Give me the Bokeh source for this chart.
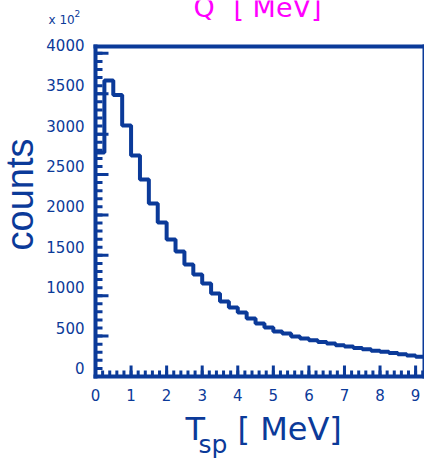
import math

from bokeh.core.properties import value
from bokeh.embed import file_html
from bokeh.models import Range1d
from bokeh.plotting import figure
from bokeh.resources import INLINE

# Spectator kinetic-energy spectrum, 0.25 MeV bins (counts in units of 10^2)
bin_width = 0.25
counts = [2772, 3663, 3486, 3106, 2735, 2438, 2141, 1906, 1696, 1547,
          1386, 1262, 1151, 1027, 928, 854, 792, 718, 656, 606,
          557, 532, 495, 470, 450, 428, 408, 388, 370, 352,
          336, 320, 305, 290, 275, 260, 245]
x_ticks = [0, 1, 2, 3, 4, 5, 6, 7, 8, 9]
x_tick_labels = ["0", "1", "2", "3", "4", "5", "6", "7", "8", "9"]
y_ticks = [0, 500, 1000, 1500, 2000, 2500, 3000, 3500, 4000]
y_tick_labels = ["0", "500", "1000", "1500", "2000", "2500", "3000", "3500", "4000"]
x_minor_step = 0.2
y_minor_step = 100

NAVY = "#0b3a99"
MAGENTA = "#ff00ff"
FONT = "DejaVu Sans"
FONT_Y_TITLE = "Liberation Sans"

# page geometry: the drawing area covers the whole page, the histogram
# frame sits inside it
W, H = 424, 464
FRAME_L, FRAME_T, FRAME_B = 95, 46, 376
x_max = bin_width * len(counts)
y_max = 4085
kx = (W - FRAME_L) / x_max          # pixels per MeV
ky = (FRAME_B - FRAME_T) / y_max    # pixels per count


def dx(px):
    return (px - FRAME_L) / kx


def dy(py):
    return (FRAME_B - py) / ky


p = figure(width=W, height=H,
           x_range=Range1d(dx(0), dx(W)), y_range=Range1d(dy(H), dy(0)),
           x_axis_location=None, y_axis_location=None,
           output_backend="svg", toolbar_location=None,
           min_border=0)
p.background_fill_color = "white"
p.border_fill_color = "white"
p.outline_line_color = None
p.xgrid.visible = False
p.ygrid.visible = False

# histogram outline drawn as a step line
edges = [i * bin_width for i in range(len(counts) + 1)]
p.step(x=edges, y=counts + [counts[-1]], mode="after",
       line_color=NAVY, line_width=4)

# ticks pointing into the frame
x_minor = [i * x_minor_step for i in range(int(x_max / x_minor_step) + 1)]
y_minor = list(range(0, y_max + 1, y_minor_step))
tick_w = 3
p.segment(x0=x_minor, y0=[0] * len(x_minor), x1=x_minor, y1=[6 / ky] * len(x_minor),
          line_color=NAVY, line_width=tick_w)
p.segment(x0=x_ticks, y0=[0] * len(x_ticks), x1=x_ticks, y1=[11 / ky] * len(x_ticks),
          line_color=NAVY, line_width=tick_w)
p.segment(x0=[0] * len(y_minor), y0=y_minor, x1=[7 / kx] * len(y_minor), y1=y_minor,
          line_color=NAVY, line_width=tick_w)
p.segment(x0=[0] * len(y_ticks), y0=y_ticks, x1=[13 / kx] * len(y_ticks), y1=y_ticks,
          line_color=NAVY, line_width=tick_w)

# frame
p.segment(x0=[0, 0, 0, x_max], y0=[0, 0, y_max, 0],
          x1=[0, x_max, x_max, x_max], y1=[y_max, 0, y_max, y_max],
          line_color=NAVY, line_width=4, line_cap="square")

# tick labels
p.text(x=x_ticks, y=[0] * len(x_ticks), text=x_tick_labels,
       y_offset=18, text_align="center", text_baseline="middle",
       text_font=value(FONT), text_font_size="15px", text_color=NAVY)
p.text(x=[0] * len(y_ticks), y=y_ticks, text=y_tick_labels,
       x_offset=-11, y_offset=-8.5, text_align="right", text_baseline="middle",
       text_font=value(FONT), text_font_size="15px", text_color=NAVY)


def add_text(txt, px, py, size, color=NAVY, align="left", angle=0.0, font=FONT):
    p.text(x=[dx(px)], y=[dy(py)], text=[txt], angle=angle,
           text_align=align, text_baseline="middle",
           text_font=value(font), text_font_size=size, text_color=color)


# title (partly above the page edge)
add_text("Q", 193, 7, "27px", color=MAGENTA)
add_text("[ MeV]", 233, 7, "27px", color=MAGENTA)
# axis multiplier
add_text("x 10", 48, 19.5, "12px")
add_text("2", 74, 12.5, "9px")
# y axis title
add_text("counts", 19.5, 194, "38px", align="center", angle=math.pi / 2, font=FONT_Y_TITLE)
# x axis title with subscript
add_text("T", 185, 428.5, "32px")
add_text("sp", 198, 443.5, "25px")
add_text("[ MeV]", 237, 428.5, "32px")

open("out.html", "w").write(file_html(p, INLINE))
